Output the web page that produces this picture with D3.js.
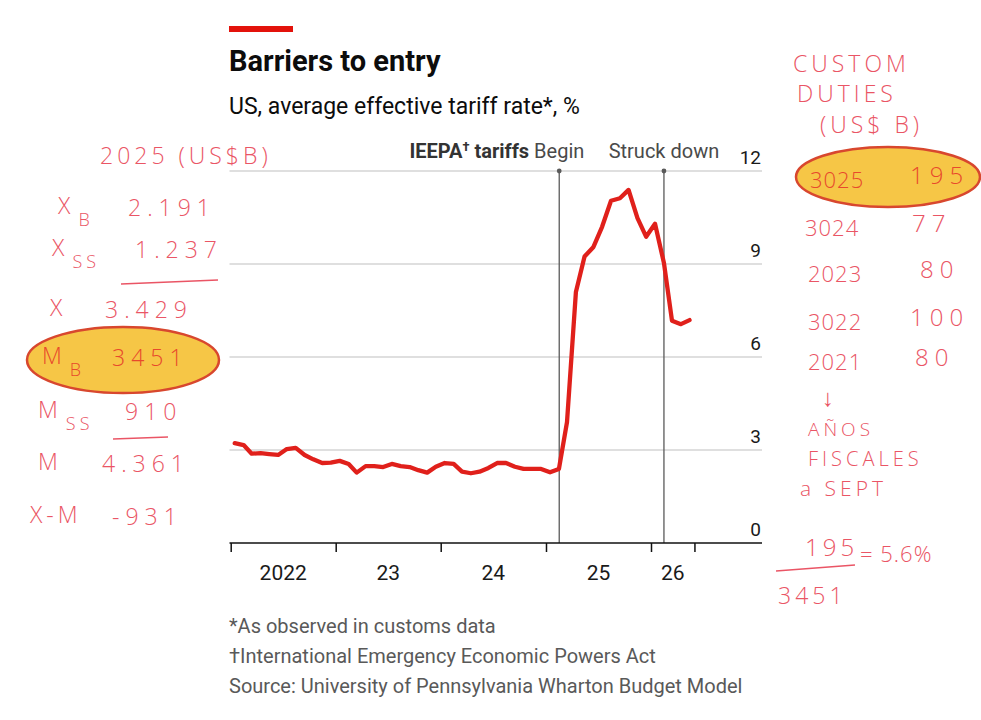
<!DOCTYPE html>
<html>
<head>
<meta charset="utf-8">
<script src="https://d3js.org/d3.v7.min.js"></script>
<style>
  body { margin: 0; background: #fff; }
  text { font-family: Roboto, "Noto Sans", sans-serif; }
  .hand { font-family: "Open Sans", "Noto Sans", sans-serif; font-weight: 300; fill: #ea5565; letter-spacing: 4px; }
</style>
</head>
<body>
<div id="target"></div>
<script>
// monthly readings, Jan 2022 onwards (%)
var startMonth = "2022-01";
var tariffRate = [3.22, 3.16, 2.88, 2.90, 2.87, 2.84, 3.03, 3.07, 2.84, 2.70, 2.58, 2.59,
                  2.65, 2.55, 2.27, 2.48, 2.48, 2.45, 2.55, 2.48, 2.45, 2.35, 2.27, 2.46,
                  2.58, 2.55, 2.30, 2.25, 2.30, 2.42, 2.58, 2.58, 2.46, 2.39, 2.39, 2.39,
                  2.28, 2.39, 3.90, 8.10, 9.24, 9.55, 10.20, 11.04, 11.12, 11.39, 10.48, 9.88,
                  10.30, 9.03, 7.17, 7.06, 7.19];
var yTicks = [0, 3, 6, 9, 12];
var xTickDates = ["2022-01-01", "2023-01-01", "2024-01-01", "2025-01-01", "2026-01-01", "2026-06-01"];
var yearLabels = ["2022", "23", "24", "25", "26"];
var events = [{date: "2025-02-16", bold: "IEEPA", sup: "\u2020", after: " tariffs ", label: "Begin"},
              {date: "2026-02-15", bold: "", sup: "", after: "", label: "Struck down"}];
var footnotes = ["*As observed in customs data",
                 "\u2020International Emergency Economic Powers Act",
                 "Source: University of Pennsylvania Wharton Budget Model"];

// handwritten notes
var tradeLabels = ["X", "X", "X", "M", "M", "M", "X-M"];
var tradeSubs = ["B", "SS", "", "B", "SS", "", ""];
var tradeValues = ["2.191", "1.237", "3.429", "3451", "910", "4.361", "-931"];
var dutyYears = ["3025", "3024", "2023", "3022", "2021"];
var dutyValues = ["195", "77", "80", "100", "80"];

var parseDay = d3.timeParse("%Y-%m-%d");
var parseMonth = d3.timeParse("%Y-%m");
var data = tariffRate.map(function(v, i) {
    return {date: d3.timeDay.offset(d3.timeMonth.offset(parseMonth(startMonth), i), 14), value: v};
});

var svg = d3.select('#target')
    .append('svg')
    .attr('width', 981)
    .attr('height', 720);

svg.append('rect').attr('width', 981).attr('height', 720).attr('fill', '#fff');

var x = d3.scaleTime()
    .domain([parseDay("2022-01-01"), parseDay("2026-01-01")])
    .range([230.7, 651]);

var y = d3.scaleLinear()
    .domain([0, 12])
    .range([543, 171]);

var left = 229.5, right = 762;

// header
svg.append('rect').attr('x', 229).attr('y', 26).attr('width', 64).attr('height', 6).attr('fill', '#e3120b');
svg.append('text').attr('x', 229).attr('y', 71)
    .attr('font-size', 29).attr('font-weight', 700).attr('fill', '#0c0c0c')
    .text('Barriers to entry');
svg.append('text').attr('x', 229).attr('y', 114)
    .attr('font-size', 23).attr('fill', '#0c0c0c')
    .text('US, average effective tariff rate*, %');

// grid
var grid = svg.append('g');
grid.selectAll('line').data(yTicks.filter(function(d) { return d > 0; }))
    .enter().append('line')
    .attr('x1', left).attr('x2', right)
    .attr('y1', function(d) { return y(d); })
    .attr('y2', function(d) { return y(d); })
    .attr('stroke', '#d4d4d4').attr('stroke-width', 1.3);

grid.selectAll('text').data(yTicks)
    .enter().append('text')
    .attr('x', right - 1)
    .attr('y', function(d) { return y(d) - 7; })
    .attr('text-anchor', 'end')
    .attr('font-size', 19).attr('fill', '#1a1a1a')
    .text(function(d) { return d; });

// event lines
var ev = svg.append('g').selectAll('g').data(events).enter().append('g');
ev.append('line')
    .attr('x1', function(d) { return x(parseDay(d.date)); })
    .attr('x2', function(d) { return x(parseDay(d.date)); })
    .attr('y1', y(12)).attr('y2', y(0))
    .attr('stroke', '#5a5a5a').attr('stroke-width', 1.3);
ev.append('circle')
    .attr('cx', function(d) { return x(parseDay(d.date)); })
    .attr('cy', y(12)).attr('r', 2.4).attr('fill', '#5a5a5a');

// labels: the last word is centred on its line
ev.each(function(d) {
    var g = d3.select(this);
    var cx = x(parseDay(d.date));
    var probe = g.append('text').attr('font-size', 20).text(d.label);
    var w = probe.node().getComputedTextLength();
    probe.remove();
    var t = g.append('text').attr('x', cx + w / 2).attr('y', 158)
        .attr('text-anchor', 'end')
        .attr('font-size', 20).attr('fill', '#4a4a4a');
    if (d.bold) {
        t.append('tspan').attr('font-weight', 700).attr('fill', '#333').text(d.bold);
        t.append('tspan').attr('font-weight', 700).attr('fill', '#333').attr('font-size', 13).attr('dy', -7).text(d.sup);
        t.append('tspan').attr('font-weight', 700).attr('fill', '#333').attr('dy', 7).text(d.after);
    }
    t.append('tspan').text(d.label);
});

// x axis
var xAxis = d3.axisBottom(x)
    .tickValues(xTickDates.map(parseDay))
    .tickSize(9)
    .tickSizeOuter(0)
    .tickFormat('');

var ax = svg.append('g').attr('transform', 'translate(0,' + y(0) + ')').call(xAxis);
ax.select('.domain').remove();
ax.selectAll('.tick line').attr('stroke', '#111').attr('stroke-width', 1.5);
svg.append('line').attr('x1', left).attr('x2', right)
    .attr('y1', y(0)).attr('y2', y(0))
    .attr('stroke', '#111').attr('stroke-width', 1.5);

var tickX = xTickDates.map(function(d) { return x(parseDay(d)); });
svg.append('g').selectAll('text').data(yearLabels)
    .enter().append('text')
    .attr('x', function(d, i) { return (tickX[i] + tickX[i + 1]) / 2; })
    .attr('y', 580)
    .attr('text-anchor', 'middle')
    .attr('font-size', 21).attr('fill', '#1a1a1a')
    .text(function(d) { return d; });

// series
var line = d3.line()
    .x(function(d) { return x(d.date); })
    .y(function(d) { return y(d.value); });

svg.append('path')
    .datum(data)
    .attr('d', line)
    .attr('fill', 'none')
    .attr('stroke', '#e0201b')
    .attr('stroke-width', 4.3)
    .attr('stroke-linejoin', 'round')
    .attr('stroke-linecap', 'round');

// footnotes
svg.append('g').selectAll('text').data(footnotes)
    .enter().append('text')
    .attr('x', 229)
    .attr('y', function(d, i) { return 633 + i * 30; })
    .attr('font-size', 20).attr('fill', '#595959')
    .text(function(d) { return d; });

// ---- handwritten notes ----
var notes = svg.append('g');

notes.append('text').attr('class', 'hand').attr('x', 100).attr('y', 164).attr('font-size', 23)
    .text('2025 (US$B)');

var leftRowY = [216, 258, 318, 366, 420, 472, 525];
var leftLabelX = [58, 52, 50, 42, 38, 38, 30];
var leftValueX = [128, 135, 105, 112, 125, 102, 112];

notes.append('ellipse').attr('cx', 123).attr('cy', 360).attr('rx', 96).attr('ry', 33)
    .attr('fill', '#f6c646').attr('stroke', '#d8472e').attr('stroke-width', 2.5);

var rows = notes.selectAll('g.trade').data(tradeLabels).enter().append('g');
rows.append('text').attr('class', 'hand')
    .attr('x', function(d, i) { return leftLabelX[i]; })
    .attr('y', function(d, i) { return leftRowY[i] - 2; })
    .attr('font-size', 23)
    .style('fill', function(d, i) { return i === 3 ? '#e8492c' : null; })
    .text(function(d) { return d; })
    .append('tspan').attr('dy', 12).attr('dx', 4).attr('font-size', 18)
    .text(function(d, i) { return tradeSubs[i]; });
rows.append('text').attr('class', 'hand')
    .attr('x', function(d, i) { return leftValueX[i]; })
    .attr('y', function(d, i) { return leftRowY[i]; })
    .attr('font-size', 23)
    .style('letter-spacing', '6px')
    .style('fill', function(d, i) { return i === 3 ? '#e8492c' : null; })
    .text(function(d, i) { return tradeValues[i]; });

notes.append('line').attr('x1', 121).attr('y1', 284).attr('x2', 218).attr('y2', 280)
    .attr('stroke', '#ea5565').attr('stroke-width', 1.6);
notes.append('line').attr('x1', 113).attr('y1', 439).attr('x2', 168).attr('y2', 437)
    .attr('stroke', '#ea5565').attr('stroke-width', 1.6);

// right column
notes.append('text').attr('class', 'hand').attr('x', 793).attr('y', 72).attr('font-size', 23).text('CUSTOM');
notes.append('text').attr('class', 'hand').attr('x', 797).attr('y', 102).attr('font-size', 23).text('DUTIES');
notes.append('text').attr('class', 'hand').attr('x', 820).attr('y', 133).attr('font-size', 23).text('(US$ B)');

notes.append('ellipse').attr('cx', 888).attr('cy', 177).attr('rx', 92).attr('ry', 30)
    .attr('fill', '#f6c646').attr('stroke', '#d8472e').attr('stroke-width', 2.5);

var rightRowY = [188, 236, 282, 330, 370];
var rightYearX = [810, 805, 808, 808, 808];
var rightValueX = [910, 912, 920, 910, 915];
var duty = notes.selectAll('g.duty').data(dutyYears).enter().append('g');
duty.append('text').attr('class', 'hand')
    .attr('x', function(d, i) { return rightYearX[i]; })
    .attr('y', function(d, i) { return rightRowY[i]; })
    .attr('font-size', 22)
    .style('letter-spacing', '1px')
    .style('fill', function(d, i) { return i === 0 ? '#e8492c' : null; })
    .text(function(d) { return d; });
duty.append('text').attr('class', 'hand')
    .attr('x', function(d, i) { return rightValueX[i]; })
    .attr('y', function(d, i) { return rightRowY[i] - 4; })
    .attr('font-size', 24)
    .style('letter-spacing', '6px')
    .style('fill', function(d, i) { return i === 0 ? '#e8492c' : null; })
    .text(function(d, i) { return dutyValues[i]; });

notes.append('text').attr('class', 'hand').attr('x', 822).attr('y', 406).attr('font-size', 24).style('letter-spacing', '0px').text('\u2193');
notes.append('text').attr('class', 'hand').attr('x', 808).attr('y', 436).attr('font-size', 19).text('AÑOS');
notes.append('text').attr('class', 'hand').attr('x', 808).attr('y', 466).attr('font-size', 20).text('FISCALES');
notes.append('text').attr('class', 'hand').attr('x', 800).attr('y', 496).attr('font-size', 21).text('a SEPT');

notes.append('text').attr('class', 'hand').attr('x', 805).attr('y', 556).attr('font-size', 24).text('195');
notes.append('text').attr('class', 'hand').attr('x', 860).attr('y', 562).attr('font-size', 22).style('letter-spacing', '1px').text('= 5.6%');
notes.append('line').attr('x1', 776).attr('y1', 571).attr('x2', 855).attr('y2', 565)
    .attr('stroke', '#ea5565').attr('stroke-width', 1.6);
notes.append('text').attr('class', 'hand').attr('x', 778).attr('y', 604).attr('font-size', 23).text('3451');
</script>
</body>
</html>
